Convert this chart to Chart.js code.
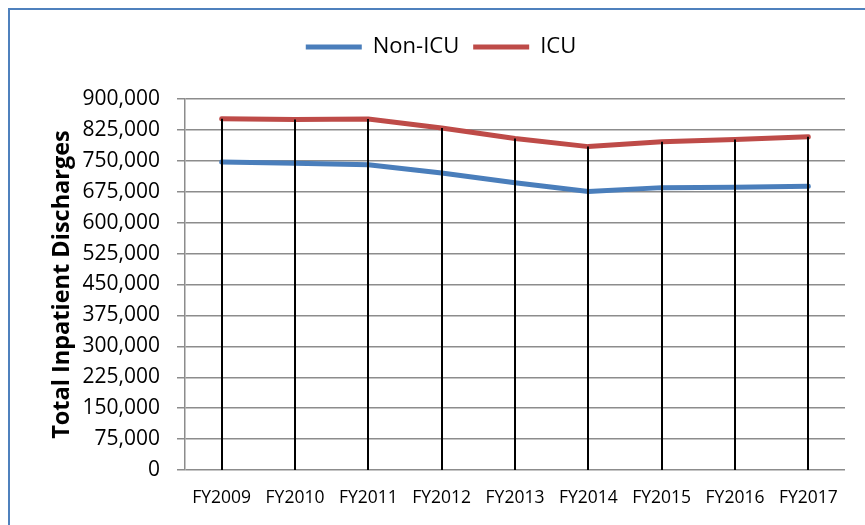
<!DOCTYPE html>
<html>
<head>
<meta charset="utf-8">
<script src="https://cdn.jsdelivr.net/npm/chart.js@4"></script>
<style>
  html, body { margin: 0; padding: 0; background: #fff; }
  #wrap { position: relative; width: 865px; height: 525px; overflow: hidden; }
  #frame {
    position: absolute; left: 8px; top: 8px; width: 900px; height: 600px;
    border-left: 2px solid #4F81BD; border-top: 2px solid #4F81BD;
  }
  canvas { position: absolute; left: 0; top: 0; }
</style>
</head>
<body>
<div id="wrap">
  <div id="frame"></div>
  <canvas id="myLineChart" width="865" height="525"></canvas>
</div>
<script>
const years = ["FY2009", "FY2010", "FY2011", "FY2012", "FY2013", "FY2014", "FY2015", "FY2016", "FY2017"];
const nonIcu = [747000, 744000, 740500, 720500, 697000, 675500, 685000, 686000, 688500];
const icu = [852000, 850000, 851500, 829500, 804000, 784500, 796500, 802000, 808500];
const yMax = 900000;
const yStep = 75000;

const padLeft = 37;

// black drop lines from the highest point of each category down to the axis
const dropLines = {
  id: "dropLines",
  afterDatasetsDraw(chart) {
    const ctx = chart.ctx;
    const x = chart.scales.x;
    const y = chart.scales.y;
    ctx.save();
    ctx.strokeStyle = "#000";
    ctx.lineWidth = 2;
    years.forEach((yr, i) => {
      const top = Math.max(icu[i], nonIcu[i]);
      const px = Math.round(x.getPixelForValue(i));
      ctx.beginPath();
      ctx.moveTo(px, y.getPixelForValue(top));
      ctx.lineTo(px, y.getPixelForValue(0));
      ctx.stroke();
    });
    ctx.restore();
  },
};

// extra room between the legend and the plot
const legendGap = {
  id: "legendGap",
  beforeInit(chart) {
    const fit = chart.legend.fit;
    chart.legend.fit = function () {
      fit.call(this);
      this.height += 31;
    };
  },
};

const ctx = document.getElementById("myLineChart").getContext("2d");
const myLineChart = new Chart(ctx, {
  type: "line",
  data: {
    labels: years,
    datasets: [
      {
        label: "Non-ICU",
        data: nonIcu,
        borderColor: "#4A7EBB",
        backgroundColor: "#4A7EBB",
        borderWidth: 5,
        pointRadius: 0,
        tension: 0,
        borderCapStyle: "round",
      },
      {
        label: "ICU",
        data: icu,
        borderColor: "#BE4B48",
        backgroundColor: "#BE4B48",
        borderWidth: 5,
        pointRadius: 0,
        tension: 0,
        borderCapStyle: "round",
      },
    ],
  },
  options: {
    responsive: false,
    animation: false,
    layout: {
      padding: { left: padLeft, right: 20, top: 22, bottom: 0 },
    },
    scales: {
      x: {
        offset: true,
        afterFit(scale) {
          scale.height = 55;
        },
        grid: { display: false, drawTicks: false },
        border: { display: false },
        ticks: {
          color: "#000",
          padding: 18,
          maxRotation: 0,
          autoSkip: false,
          font: { family: "'Open Sans'", size: 17.5 },
        },
      },
      y: {
        min: 0,
        max: yMax,
        afterFit(scale) {
          scale.width = 185 - padLeft;
        },
        grid: {
          color: "#8C8C8C",
          lineWidth: 1.5,
          tickLength: 8,
        },
        border: { color: "#8C8C8C", width: 1.5 },
        ticks: {
          stepSize: yStep,
          color: "#000",
          padding: 17,
          font: { family: "'Open Sans'", size: 21 },
          callback: function (value) {
            return value.toLocaleString("en-US");
          },
        },
        title: {
          display: true,
          text: "Total Inpatient Discharges",
          color: "#000",
          padding: { top: 11, bottom: 0 },
          font: { family: "'Open Sans'", size: 23.5, weight: "bold" },
        },
      },
    },
    plugins: {
      legend: {
        position: "top",
        labels: {
          usePointStyle: true,
          pointStyle: "line",
          pointStyleWidth: 56,
          padding: 14,
          color: "#000",
          font: { family: "'Open Sans'", size: 22 },
        },
      },
      tooltip: { enabled: false },
    },
  },
  plugins: [dropLines, legendGap],
});
</script>
</body>
</html>
